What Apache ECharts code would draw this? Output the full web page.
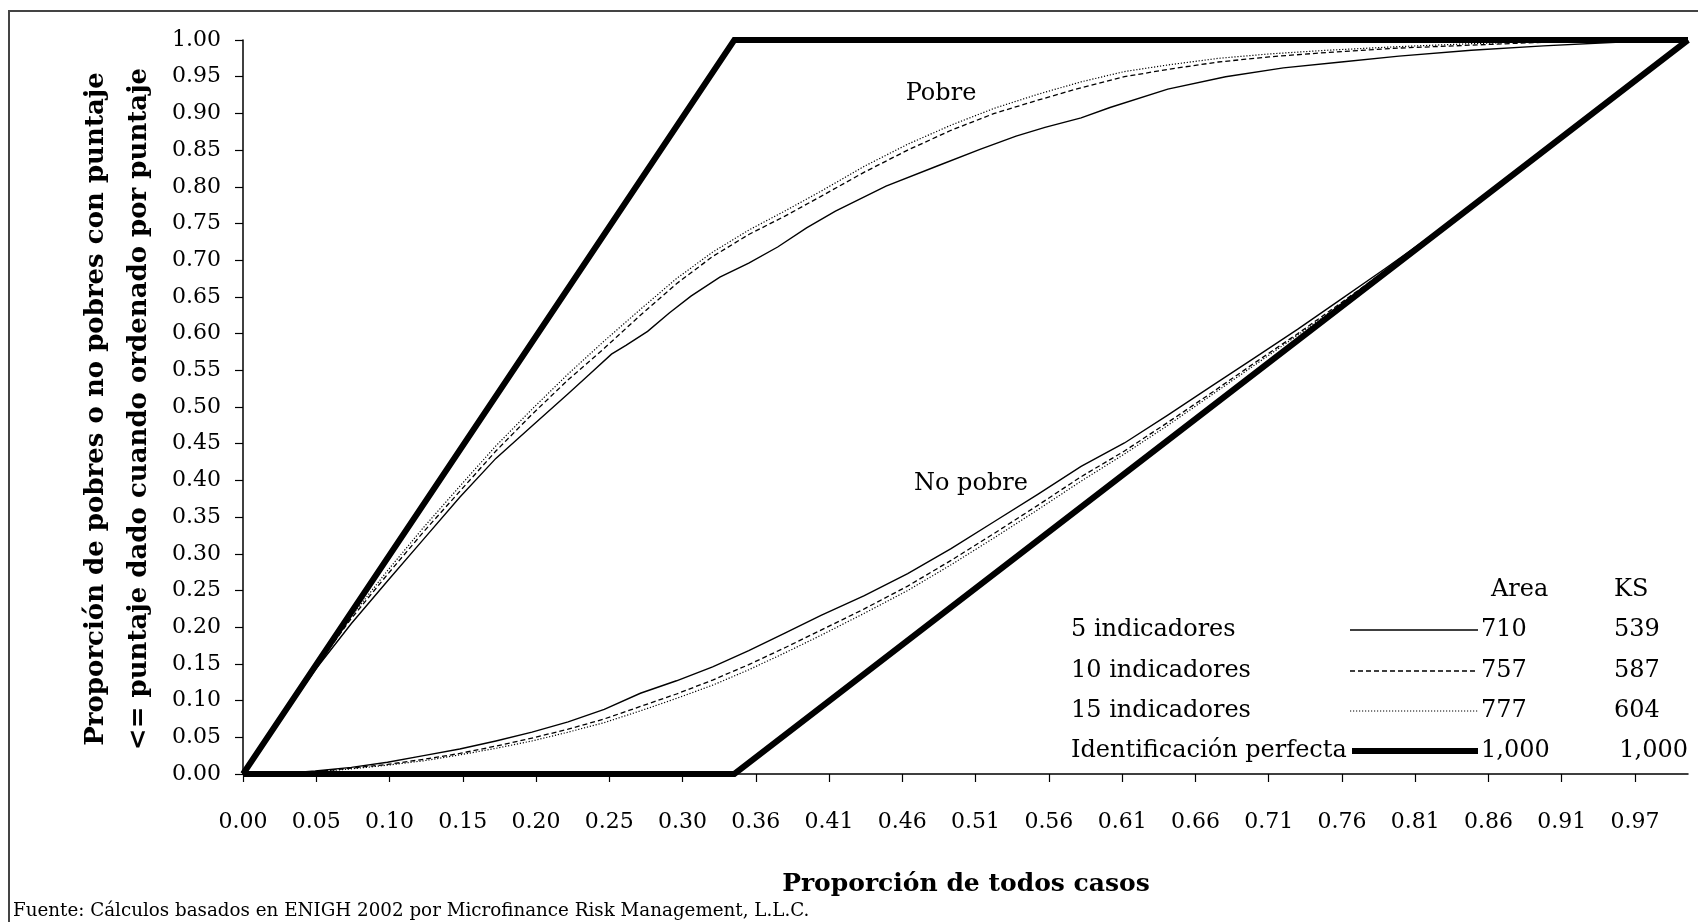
<!DOCTYPE html>
<html>
<head>
<meta charset="utf-8">
<script src="https://cdn.jsdelivr.net/npm/echarts@6/dist/echarts.min.js"></script>
<style>
html,body{margin:0;padding:0;background:#fff;}
#chart{width:1698px;height:922px;}
</style>
</head>
<body>
<div id="chart"></div>
<script>
// ---- tick labels ----
const xTickLabels = ['0.00','0.05','0.10','0.15','0.20','0.25','0.30','0.36','0.41','0.46',
  '0.51','0.56','0.61','0.66','0.71','0.76','0.81','0.86','0.91','0.97'];
const xTickStep = 0.0507;

// ---- curves: [proporción de todos casos, proporción acumulada] ----
const pobre5 = [[0,0],[0.02,0.058],[0.05,0.142],[0.075,0.205],[0.10,0.263],[0.125,0.320],[0.15,0.377],
  [0.175,0.430],[0.20,0.474],[0.225,0.518],[0.24,0.545],[0.255,0.572],[0.265,0.584],[0.28,0.603],
  [0.295,0.628],[0.31,0.651],[0.33,0.677],[0.35,0.696],[0.37,0.718],[0.39,0.744],[0.41,0.767],
  [0.445,0.801],[0.48,0.828],[0.51,0.851],[0.535,0.869],[0.555,0.881],[0.58,0.894],[0.60,0.908],
  [0.64,0.933],[0.68,0.950],[0.72,0.962],[0.76,0.970],[0.80,0.978],[0.85,0.986],[0.90,0.992],
  [0.95,0.997],[1,1]];
const pobre10 = [[0,0],[0.02,0.058],[0.05,0.145],[0.075,0.212],[0.10,0.272],[0.125,0.330],[0.15,0.385],
  [0.175,0.440],[0.20,0.490],[0.225,0.537],[0.25,0.580],[0.275,0.625],[0.30,0.668],[0.325,0.705],
  [0.35,0.735],[0.375,0.760],[0.40,0.787],[0.43,0.820],[0.46,0.850],[0.49,0.877],[0.52,0.900],
  [0.55,0.918],[0.58,0.935],[0.61,0.950],[0.64,0.960],[0.675,0.970],[0.71,0.977],[0.75,0.983],
  [0.80,0.989],[0.85,0.993],[0.90,0.997],[0.95,0.999],[1,1]];
const pobre15 = [[0,0],[0.02,0.059],[0.05,0.146],[0.075,0.215],[0.10,0.277],[0.125,0.336],[0.15,0.392],
  [0.175,0.447],[0.20,0.497],[0.225,0.545],[0.25,0.590],[0.275,0.633],[0.30,0.675],[0.325,0.711],
  [0.35,0.741],[0.375,0.767],[0.40,0.794],[0.43,0.828],[0.46,0.858],[0.49,0.884],[0.52,0.907],
  [0.55,0.926],[0.58,0.943],[0.61,0.957],[0.64,0.966],[0.675,0.975],[0.71,0.981],[0.75,0.986],
  [0.80,0.991],[0.85,0.995],[0.90,0.998],[0.95,0.999],[1,1]];
const noPobre5 = [[0,0],[0.03,0.001],[0.05,0.004],[0.075,0.009],[0.10,0.016],[0.125,0.025],[0.15,0.034],
  [0.175,0.045],[0.20,0.057],[0.225,0.071],[0.25,0.088],[0.275,0.110],[0.30,0.127],[0.325,0.146],
  [0.35,0.168],[0.375,0.192],[0.40,0.216],[0.43,0.243],[0.46,0.273],[0.49,0.307],[0.52,0.344],
  [0.55,0.381],[0.58,0.419],[0.61,0.451],[0.64,0.489],[0.67,0.528],[0.70,0.567],[0.73,0.606],
  [0.76,0.647],[0.79,0.688],[0.82,0.730],[0.85,0.774],[0.88,0.820],[0.91,0.864],[0.94,0.910],
  [0.97,0.955],[1,1]];
const noPobre10 = [[0,0],[0.03,0.001],[0.05,0.003],[0.075,0.008],[0.10,0.013],[0.125,0.020],[0.15,0.028],
  [0.175,0.038],[0.20,0.049],[0.225,0.061],[0.25,0.075],[0.275,0.092],[0.30,0.109],[0.325,0.128],
  [0.35,0.149],[0.375,0.172],[0.40,0.196],[0.43,0.225],[0.46,0.256],[0.49,0.291],[0.52,0.328],
  [0.55,0.366],[0.58,0.405],[0.61,0.440],[0.64,0.479],[0.67,0.519],[0.70,0.560],[0.73,0.600],
  [0.76,0.642],[0.79,0.685],[0.82,0.728],[0.85,0.773],[0.88,0.819],[0.91,0.864],[0.94,0.909],
  [0.97,0.955],[1,1]];
const noPobre15 = [[0,0],[0.03,0.001],[0.05,0.003],[0.075,0.007],[0.10,0.012],[0.125,0.018],[0.15,0.026],
  [0.175,0.035],[0.20,0.045],[0.225,0.057],[0.25,0.070],[0.275,0.086],[0.30,0.103],[0.325,0.121],
  [0.35,0.142],[0.375,0.165],[0.40,0.189],[0.43,0.219],[0.46,0.250],[0.49,0.285],[0.52,0.322],
  [0.55,0.360],[0.58,0.399],[0.61,0.436],[0.64,0.475],[0.67,0.516],[0.70,0.557],[0.73,0.598],
  [0.76,0.640],[0.79,0.683],[0.82,0.727],[0.85,0.772],[0.88,0.818],[0.91,0.863],[0.94,0.909],
  [0.97,0.954],[1,1]];
const perfectPobre = [[0,0],[0.34,1],[1,1]];
const perfectNoPobre = [[0,0],[0.34,0],[1,1]];

// ---- legend table ----
const legendNames = ['5 indicadores','10 indicadores','15 indicadores','Identificación perfecta'];
const areaValues = ['710','757','777','1,000'];
const ksValues = ['539','587','604','1,000'];

const FONT = "'DejaVu Serif', serif";
const xTickValues = xTickLabels.map((_, i) => i * xTickStep);

const chart = echarts.init(document.getElementById('chart'), null, {renderer: 'canvas'});

const styles = [
  {color: '#000', width: 1.4, type: 'solid'},
  {color: '#000', width: 1.3, type: [5, 3]},
  {color: '#000', width: 1.2, type: [1.2, 1.8]},
  {color: '#000', width: 6, type: 'solid'}
];

function lineSeries(name, data, st, z) {
  return {
    name: name, type: 'line', data: data, showSymbol: false, symbol: 'none',
    clip: false, animation: false, z: z || 2,
    lineStyle: {color: st.color, width: st.width, type: st.type, cap: 'butt', join: 'miter'}
  };
}

// legend graphics
const rowY = [630, 671, 711, 751];
const ksPos = [[1614, 'left'], [1614, 'left'], [1614, 'left'], [1688, 'right']];
const legendGraphics = [];
legendGraphics.push({type: 'text', style: {text: 'Area', x: 1491, y: 590, font: '24px ' + FONT, textAlign: 'left', textVerticalAlign: 'middle', fill: '#000'}});
legendGraphics.push({type: 'text', style: {text: 'KS', x: 1614, y: 590, font: '24px ' + FONT, textAlign: 'left', textVerticalAlign: 'middle', fill: '#000'}});
legendNames.forEach((n, i) => {
  legendGraphics.push({type: 'text', style: {text: n, x: 1071, y: rowY[i], font: '24px ' + FONT, textAlign: 'left', textVerticalAlign: 'middle', fill: '#000'}});
  const st = styles[i];
  legendGraphics.push({type: 'line', shape: {x1: i === 3 ? 1352 : 1350, y1: rowY[i], x2: 1478, y2: rowY[i]},
    style: {stroke: '#000', lineWidth: st.width, lineDash: st.type === 'solid' ? null : st.type}});
  legendGraphics.push({type: 'text', style: {text: areaValues[i], x: 1481, y: rowY[i], font: '24px ' + FONT, textAlign: 'left', textVerticalAlign: 'middle', fill: '#000'}});
  legendGraphics.push({type: 'text', style: {text: ksValues[i], x: ksPos[i][0], y: rowY[i], font: '24px ' + FONT, textAlign: ksPos[i][1], textVerticalAlign: 'middle', fill: '#000'}});
});

const option = {
  backgroundColor: '#fff',
  animation: false,
  grid: {left: 243, right: 10, top: 40, bottom: 148, containLabel: false},
  xAxis: {
    type: 'value', min: 0, max: 1, interval: xTickStep,
    axisLine: {show: true, lineStyle: {color: '#000', width: 1.5}},
    axisTick: {show: true, length: 8, customValues: xTickValues, lineStyle: {color: '#000', width: 1.2}},
    axisLabel: {
      customValues: xTickValues, margin: 37, fontFamily: FONT, fontSize: 22, color: '#000',
      formatter: function (v) {
        for (let i = 0; i < xTickValues.length; i++) {
          if (Math.abs(v - xTickValues[i]) < 1e-6) return xTickLabels[i];
        }
        return '';
      }
    },
    splitLine: {show: false}
  },
  yAxis: {
    type: 'value', min: 0, max: 1, interval: 0.05,
    axisLine: {show: true, lineStyle: {color: '#000', width: 1.5}},
    axisTick: {show: true, length: 8, lineStyle: {color: '#000', width: 1.2}},
    axisLabel: {margin: 22, fontFamily: FONT, fontSize: 22, color: '#000', formatter: v => v.toFixed(2)},
    splitLine: {show: false}
  },
  series: [
    lineSeries('Identificación perfecta', perfectPobre, styles[3], 5),
    lineSeries('Identificación perfecta ', perfectNoPobre, styles[3], 5),
    lineSeries('5 indicadores', pobre5, styles[0]),
    lineSeries('10 indicadores', pobre10, styles[1]),
    lineSeries('15 indicadores', pobre15, styles[2]),
    lineSeries('5 indicadores ', noPobre5, styles[0]),
    lineSeries('10 indicadores ', noPobre10, styles[1]),
    lineSeries('15 indicadores ', noPobre15, styles[2])
  ],
  graphic: [
    {type: 'polyline', shape: {points: [[9, 922], [9, 11], [1698, 11]]}, style: {stroke: '#444', lineWidth: 2, fill: null}},
    {type: 'text', x: 96, y: 409, rotation: Math.PI / 2,
      style: {text: 'Proporción de pobres o no pobres con puntaje', x: 0, y: 0, font: 'bold 26px ' + FONT, textAlign: 'center', textVerticalAlign: 'middle', fill: '#000'}},
    {type: 'text', x: 139, y: 409, rotation: Math.PI / 2,
      style: {text: '<= puntaje dado cuando ordenado por puntaje', x: 0, y: 0, font: 'bold 26px ' + FONT, textAlign: 'center', textVerticalAlign: 'middle', fill: '#000'}},
    {type: 'text', style: {text: 'Proporción de todos casos', x: 966, y: 884, font: 'bold 25px ' + FONT, textAlign: 'center', textVerticalAlign: 'middle', fill: '#000'}},
    {type: 'text', style: {text: 'Fuente: Cálculos basados en ENIGH 2002 por Microfinance Risk Management, L.L.C.', x: 13, y: 911, font: '18.3px ' + FONT, textAlign: 'left', textVerticalAlign: 'middle', fill: '#000'}},
    {type: 'text', style: {text: 'Pobre', x: 941, y: 94, font: '24px ' + FONT, textAlign: 'center', textVerticalAlign: 'middle', fill: '#000'}},
    {type: 'text', style: {text: 'No pobre', x: 971, y: 484, font: '24px ' + FONT, textAlign: 'center', textVerticalAlign: 'middle', fill: '#000'}}
  ].concat(legendGraphics)
};
chart.setOption(option);
</script>
</body>
</html>
